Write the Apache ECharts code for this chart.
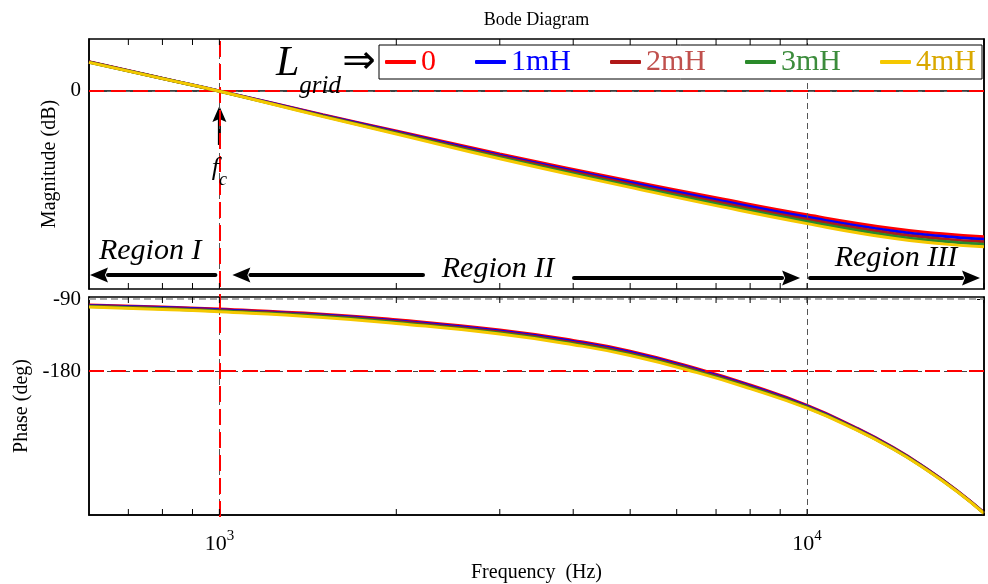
<!DOCTYPE html>
<html><head><meta charset="utf-8">
<script src="https://cdn.jsdelivr.net/npm/echarts@6/dist/echarts.min.js"></script>
<style>html,body{margin:0;padding:0;background:#fff}#c{width:988px;height:584px}</style>
</head><body><div id="c"></div>
<script>
// ---------- data ----------
const freqMag = [600, 800, 1000, 1500, 2000, 3000, 5000, 7000, 10000, 14000, 17000, 20000];
const mag0mH = [4.5, 1.95, 0, -3.65, -6.17, -9.69, -13.85, -16.46, -19.08, -21.2, -22.0, -22.46];
const mag1mH = [4.48, 1.94, -0.01, -3.73, -6.28, -9.88, -14.1, -16.76, -19.42, -21.58, -22.39, -22.85];
const mag2mH = [4.45, 1.93, -0.03, -3.8, -6.4, -10.07, -14.35, -17.06, -19.76, -21.95, -22.78, -23.24];
const mag3mH = [4.43, 1.91, -0.04, -3.88, -6.51, -10.25, -14.6, -17.36, -20.09, -22.33, -23.16, -23.62];
const mag4mH = [4.4, 1.9, -0.05, -3.95, -6.62, -10.44, -14.85, -17.66, -20.43, -22.7, -23.55, -24.01];

const freqPhase = [600, 800, 1000, 1500, 2000, 3000, 4000, 5000, 6500, 8000, 10000, 12000, 14000, 16000, 18000, 20000];
const ph0mH = [-97.4, -100.0, -102.6, -109.0, -116.0, -128.8, -141.8, -155.3, -177.0, -197.5, -223.0, -249.5, -275.5, -302.5, -329.5, -357.0];
const ph1mH = [-98.03, -100.75, -103.43, -110.0, -117.13, -130.05, -143.13, -156.65, -178.25, -198.63, -223.88, -250.13, -276.0, -302.88, -329.8, -357.25];
const ph2mH = [-98.65, -101.5, -104.25, -111.0, -118.25, -131.3, -144.45, -158.0, -179.5, -199.75, -224.75, -250.75, -276.5, -303.25, -330.1, -357.5];
const ph3mH = [-99.28, -102.25, -105.08, -112.0, -119.38, -132.55, -145.78, -159.35, -180.75, -200.88, -225.63, -251.38, -277.0, -303.63, -330.4, -357.75];
const ph4mH = [-99.9, -103.0, -105.9, -113.0, -120.5, -133.8, -147.1, -160.7, -182.0, -202.0, -226.5, -252.0, -277.5, -304.0, -330.7, -358.0];

const seriesNames = ['0', '1mH', '2mH', '3mH', '4mH'];
const magSets = [mag0mH, mag1mH, mag2mH, mag3mH, mag4mH];
const phaseSets = [ph0mH, ph1mH, ph2mH, ph3mH, ph4mH];
const lineColors = ['#ff0000', '#0000ff', '#b01818', '#2a8a2a', '#f5c800'];
const legendTextColors = ['#ff0000', '#0000ff', '#c0504d', '#3c8c3c', '#d9a800'];

const freqTicks = [700, 800, 900, 1000, 2000, 3000, 4000, 5000, 6000, 7000, 8000, 9000, 10000, 20000];
const magTickValues = [0];
const phaseTickValues = [-90, -180];
const fcFreq = 1000;
const decadeFreqs = [1000, 10000];

// ---------- axis settings ----------
const freqRange = [600, 20000];
const magRange = [-30.5, 8];
const phaseRange = [-360, -87.5];
const SERIF = 'Liberation Serif';

const zip = (xs, ys) => xs.map((x, i) => [x, ys[i]]);

function tickRender(yLo, yHi) {
  return function (params, api) {
    const f = api.value(0);
    const t = api.coord([f, yHi]);
    const b = api.coord([f, yLo]);
    return { type: 'group', children: [
      { type: 'line', shape: { x1: t[0], y1: t[1], x2: t[0], y2: t[1] + 6 }, style: { stroke: '#000', lineWidth: 1 } },
      { type: 'line', shape: { x1: b[0], y1: b[1], x2: b[0], y2: b[1] - 6 }, style: { stroke: '#000', lineWidth: 1 } }
    ]};
  };
}

const grayDash = (c, w, t) => ({ color: c, width: w, type: t });
const series = [];
seriesNames.forEach((n, i) => {
  series.push({
    name: n, type: 'line', xAxisIndex: 0, yAxisIndex: 0, data: zip(freqMag, magSets[i]),
    smooth: true, showSymbol: false, symbol: 'none', lineStyle: { width: 3, color: lineColors[i] },
    itemStyle: { color: lineColors[i] }, z: 3 + i, silent: true
  });
});
seriesNames.forEach((n, i) => {
  series.push({
    name: n, type: 'line', xAxisIndex: 1, yAxisIndex: 2, data: zip(freqPhase, phaseSets[i]),
    smooth: true, showSymbol: false, symbol: 'none', lineStyle: { width: 3, color: lineColors[i] },
    itemStyle: { color: lineColors[i] }, z: 3 + i, silent: true
  });
});
// reference lines top panel
series.push({
  type: 'line', xAxisIndex: 0, yAxisIndex: 0, data: [], silent: true, z: 1,
  markLine: { symbol: 'none', silent: true, label: { show: false }, animation: false,
    data: [
      ...decadeFreqs.map(f => ({ xAxis: f, lineStyle: grayDash('#555', 1, [6, 4]) })),
      { yAxis: 0, lineStyle: grayDash('#666', 1, [5, 4]) },
      { yAxis: 0, lineStyle: { color: '#ff0000', width: 2, type: [15, 7] } }
    ] }
});
// reference lines bottom panel
series.push({
  type: 'line', xAxisIndex: 1, yAxisIndex: 2, data: [], silent: true, z: 1,
  markLine: { symbol: 'none', silent: true, label: { show: false }, animation: false,
    data: [
      ...decadeFreqs.map(f => ({ xAxis: f, lineStyle: grayDash('#555', 1, [6, 4]) })),
      { yAxis: phaseTickValues[0], lineStyle: grayDash('#aaa', 2, [7, 4]) },
      { yAxis: phaseTickValues[1], lineStyle: grayDash('#444', 1, [5, 4]) },
      { yAxis: phaseTickValues[1], lineStyle: { color: '#ff0000', width: 2, type: [15, 7] } }
    ] }
});
// vertical fc line across both panels
series.push({
  type: 'line', xAxisIndex: 2, yAxisIndex: 4, data: [], silent: true, z: 2,
  markLine: { symbol: 'none', silent: true, label: { show: false }, animation: false,
    data: [{ xAxis: fcFreq, lineStyle: { color: '#ff0000', width: 2, type: [16, 7] } }] }
});
// minor ticks
series.push({ type: 'custom', xAxisIndex: 0, yAxisIndex: 0, data: freqTicks.map(f => [f, 0]),
  renderItem: tickRender(magRange[0], magRange[1]), silent: true, z: 20, clip: false });
series.push({ type: 'custom', xAxisIndex: 1, yAxisIndex: 2, data: freqTicks.map(f => [f, phaseRange[1]]),
  renderItem: tickRender(phaseRange[0], phaseRange[1]), silent: true, z: 20, clip: false });

const axisLine = { show: true, lineStyle: { color: '#000', width: 1.5 } };
const xBase = { type: 'log', logBase: 10, min: freqRange[0], max: freqRange[1], splitLine: { show: false },
  axisTick: { show: false }, axisLine: axisLine, axisLabel: { show: false } };

function yAx(grid, rng, ticks, pos, label, name, nameGap) {
  return {
    type: 'value', gridIndex: grid, min: rng[0], max: rng[1], position: pos,
    splitLine: { show: false }, axisLine: axisLine,
    axisTick: { show: true, inside: true, length: 7, customValues: ticks, lineStyle: { color: '#000', width: 1 } },
    axisLabel: { show: label, customValues: ticks, fontFamily: SERIF, fontSize: 21, color: '#000', margin: 8 },
    name: name, nameLocation: 'middle', nameGap: nameGap,
    nameTextStyle: { fontFamily: SERIF, fontSize: 20, color: '#000' }
  };
}

const chart = echarts.init(document.getElementById('c'), null, { renderer: 'canvas' });
const option = {
  animation: false,
  backgroundColor: '#fff',
  grid: [
    { left: 89, right: 4, top: 39, height: 250, show: true, borderColor: '#000', borderWidth: 1.5, backgroundColor: 'transparent' },
    { left: 89, right: 4, top: 297, bottom: 67, show: true, borderColor: '#000', borderWidth: 1.5, backgroundColor: 'transparent' },
    { left: 89, right: 4, top: 39, bottom: 67, show: false }
  ],
  xAxis: [
    Object.assign({}, xBase, { gridIndex: 0 }),
    Object.assign({}, xBase, { gridIndex: 1,
      axisLabel: { show: true, margin: 14, showMinLabel: false, showMaxLabel: false,
        formatter: v => { const e = Math.log10(v); return Math.abs(e - Math.round(e)) < 1e-6 ? '{b|10}{s|' + Math.round(e) + '}' : ''; },
        rich: { b: { fontFamily: SERIF, fontSize: 22, color: '#000', lineHeight: 26, verticalAlign: 'bottom' },
                s: { fontFamily: SERIF, fontSize: 15, color: '#000', lineHeight: 15, verticalAlign: 'top' } } },
      name: 'Frequency  (Hz)', nameLocation: 'middle', nameGap: 48,
      nameTextStyle: { fontFamily: SERIF, fontSize: 20, color: '#000' } }),
    Object.assign({}, xBase, { gridIndex: 2, show: false })
  ],
  yAxis: [
    yAx(0, magRange, magTickValues, 'left', true, 'Magnitude (dB)', 17),
    yAx(0, magRange, magTickValues, 'right', false, '', 0),
    yAx(1, phaseRange, phaseTickValues, 'left', true, 'Phase (deg)', 50),
    yAx(1, phaseRange, phaseTickValues, 'right', false, '', 0),
    { type: 'value', gridIndex: 2, min: 0, max: 1, show: false }
  ],
  legend: {
    left: 379, top: 45, data: seriesNames.map((n, i) => ({ name: n, textStyle: { color: legendTextColors[i] } })),
    icon: 'roundRect', itemWidth: 31, itemHeight: 4, itemGap: 39, padding: [2, 6],
    borderColor: '#000', borderWidth: 1, backgroundColor: '#fff', selectedMode: false, z: 30,
    textStyle: { fontFamily: SERIF, fontSize: 30 }
  },
  series: series
};
chart.setOption(option);

// ---------- annotations (placed from axis coordinates) ----------
const p0 = chart.convertToPixel({ xAxisIndex: 0, yAxisIndex: 0 }, [fcFreq, 0]);
const p4 = chart.convertToPixel({ xAxisIndex: 0, yAxisIndex: 0 }, [decadeFreqs[1], 0]);
const pL = chart.convertToPixel({ xAxisIndex: 0, yAxisIndex: 0 }, [freqRange[0], magRange[0]]);
const pR = chart.convertToPixel({ xAxisIndex: 0, yAxisIndex: 0 }, [freqRange[1], magRange[1]]);
const xL = pL[0], xR = pR[0], yBot = pL[1], yTop = pR[1];

function arrow(x1, x2, y, dir) { // dir: -1 head at x1 pointing left; +1 head at x2 pointing right
  const hl = 18, hh = 7.5;
  const tip = dir < 0 ? x1 : x2;
  const base = tip - dir * hl;
  return { type: 'group', z: 40, children: [
    { type: 'line', shape: { x1: dir < 0 ? base : x1, y1: y, x2: dir < 0 ? x2 : base, y2: y }, style: { stroke: '#000', lineWidth: 4, lineCap: 'round' } },
    { type: 'polygon', shape: { points: [[tip, y], [base, y - hh], [base + dir * 3, y], [base, y + hh]] }, style: { fill: '#000' } }
  ]};
}
function itText(t, x, y, size) {
  return { type: 'text', z: 40, style: { text: t, x: x, y: y, align: 'center', verticalAlign: 'middle',
    font: 'italic ' + size + 'px "' + SERIF + '"', fill: '#000' } };
}
const yA = yBot - 14, yB = yBot - 11;
chart.setOption({ graphic: [
  { type: 'text', z: 40, style: { text: 'Bode Diagram', x: (xL + xR) / 2, y: 20, align: 'center', verticalAlign: 'middle', font: '18px "' + SERIF + '"', fill: '#000' } },
  // fc arrow
  { type: 'group', z: 40, children: [
    { type: 'line', shape: { x1: p0[0], y1: p0[1] + 28, x2: p0[0], y2: p0[1] + 54 }, style: { stroke: '#000', lineWidth: 3 } },
    { type: 'polygon', shape: { points: [[p0[0], p0[1] + 15], [p0[0] - 7, p0[1] + 31], [p0[0], p0[1] + 28], [p0[0] + 7, p0[1] + 31]] }, style: { fill: '#000' } }
  ]},
  { type: 'text', z: 40, style: { text: '{f|f}{c|c}', x: p0[0], y: p0[1] + 81, align: 'center', verticalAlign: 'middle',
    rich: { f: { font: 'italic 26px "' + SERIF + '"', fill: '#000', lineHeight: 26, verticalAlign: 'top' },
            c: { font: 'italic 18px "' + SERIF + '"', fill: '#000', lineHeight: 34, verticalAlign: 'bottom' } } } },
  // L_grid =>
  { type: 'text', z: 40, style: { text: '{L|L}{g|grid}', x: 276, y: 71, align: 'left', verticalAlign: 'middle',
    rich: { L: { font: 'italic 42px "' + SERIF + '"', fill: '#000', lineHeight: 40, verticalAlign: 'top' },
            g: { font: 'italic 25px "' + SERIF + '"', fill: '#000', lineHeight: 56, verticalAlign: 'bottom' } } } },
  { type: 'text', z: 40, style: { text: '\u21D2', x: 359, y: 63, align: 'center', verticalAlign: 'middle', font: '40px "DejaVu Sans"', fill: '#000' } },
  // regions
  arrow(xL + 1, p0[0] - 4, yA, -1),
  itText('Region I', (xL + p0[0]) / 2 - 4, yA - 24, 30),
  arrow(p0[0] + 13, 423, yA, -1),
  itText('Region II', 498, yA - 6, 30),
  arrow(574, p4[0] - 7, yB, 1),
  arrow(p4[0] + 3, xR - 4, yB, 1),
  itText('Region III', 896, yB - 20, 30)
]});
</script>
</body></html>
